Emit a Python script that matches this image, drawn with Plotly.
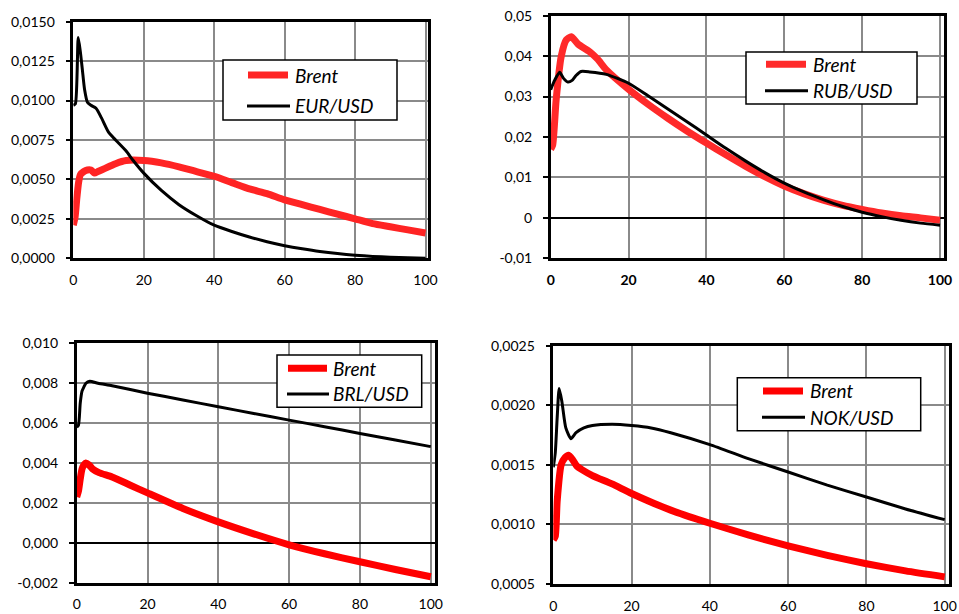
import plotly.graph_objects as go

# ---------------- data ----------------
x_ticks = [0, 20, 40, 60, 80, 100]
x_tick_labels = ["0", "20", "40", "60", "80", "100"]

# Panel 1: Brent vs EUR/USD
p1_brent_x = [0, 0.5, 1, 1.5, 2, 3, 4, 5, 6, 7, 8, 10, 12, 15, 20, 25, 30, 35, 40, 45,
              50, 55, 60, 65, 70, 75, 80, 85, 90, 95, 100]
p1_brent_y = [0.0021, 0.0026, 0.0038, 0.0048, 0.0053, 0.0055, 0.0056, 0.0056, 0.0054, 0.0055,
              0.0056, 0.0058, 0.0060, 0.0062, 0.0062, 0.00605, 0.0058, 0.0055, 0.0052, 0.0048,
              0.0044, 0.0041, 0.0037, 0.0034, 0.0031, 0.0028, 0.0025, 0.0022, 0.0020, 0.0018, 0.0016]
p1_fx_x = [0, 0.6, 1.4, 2, 2.6, 3.2, 4, 5, 6.5, 8, 10, 12, 15, 17, 20, 25, 30, 35, 40, 45,
           50, 55, 60, 65, 70, 75, 80, 85, 90, 95, 100]
p1_fx_y = [0.0097, 0.0098, 0.0140, 0.0131, 0.0119, 0.0107, 0.0099, 0.0097, 0.0095, 0.0089,
           0.0080, 0.0075, 0.0068, 0.0062, 0.0054, 0.0043, 0.0034, 0.0027, 0.0021, 0.0017,
           0.00135, 0.00105, 0.0008, 0.0006, 0.00043, 0.0003, 0.0002, 0.00012, 0.00007, 0.00003, 0.00001]
p1_y_ticks = [0, 0.0025, 0.005, 0.0075, 0.01, 0.0125, 0.015]
p1_y_labels = ["0,0000", "0,0025", "0,0050", "0,0075", "0,0100", "0,0125", "0,0150"]

# Panel 2: Brent vs RUB/USD
p2_brent_x = [0, 0.5, 1.4, 2.7, 4, 5.3, 7, 10, 12, 14.3, 20, 25, 30, 35, 40, 45, 50, 55,
              60, 65, 70, 75, 80, 85, 90, 95, 100]
p2_brent_y = [0.0170, 0.0180, 0.0292, 0.0399, 0.0440, 0.0448, 0.0430, 0.0411, 0.0393, 0.0366,
              0.0318, 0.0281, 0.0247, 0.0215, 0.0185, 0.0156, 0.0128, 0.0102, 0.0079, 0.0060,
              0.0044, 0.0031, 0.0021, 0.0012, 0.0005, 0.0000, -0.0006]
p2_fx_x = [0, 1, 2.3, 3.3, 4.4, 5.5, 6.5, 7.8, 10, 14.3, 20, 25, 30, 35, 40, 45, 50, 55,
           60, 65, 70, 75, 80, 85, 90, 95, 100]
p2_fx_y = [0.0317, 0.0340, 0.0360, 0.0345, 0.0336, 0.0340, 0.0352, 0.0362, 0.0361, 0.0355,
           0.0333, 0.0302, 0.0270, 0.0238, 0.0205, 0.0172, 0.0141, 0.0112, 0.0086, 0.0064,
           0.0045, 0.0028, 0.0014, 0.0003, -0.0006, -0.0013, -0.0018]
p2_y_ticks = [-0.01, 0, 0.01, 0.02, 0.03, 0.04, 0.05]
p2_y_labels = ["-0,01", "0", "0,01", "0,02", "0,03", "0,04", "0,05"]

# Panel 3: Brent vs BRL/USD
p3_brent_x = [0, 0.5, 1, 1.5, 2, 2.6, 3.5, 4.5, 6.3, 10, 15, 20, 30, 40, 50, 60, 70, 80, 90, 100]
p3_brent_y = [0.0023, 0.0026, 0.0032, 0.0037, 0.0039, 0.0040, 0.0039, 0.0037, 0.00352, 0.0033,
              0.0029, 0.0025, 0.00172, 0.00105, 0.00045, -0.0001, -0.00055, -0.00095, -0.00134, -0.0017]
p3_fx_x = [0, 0.5, 1, 1.5, 2, 2.6, 3.7, 6, 10, 20, 30, 40, 50, 60, 70, 80, 90, 100]
p3_fx_y = [0.0058, 0.0059, 0.0070, 0.0076, 0.0078, 0.0080, 0.0081, 0.0080, 0.00787, 0.0075,
           0.00716, 0.00682, 0.00648, 0.00615, 0.00582, 0.00548, 0.00515, 0.00482]
p3_y_ticks = [-0.002, 0, 0.002, 0.004, 0.006, 0.008, 0.010]
p3_y_labels = ["-0,002", "0,000", "0,002", "0,004", "0,006", "0,008", "0,010"]

# Panel 4: Brent vs NOK/USD
p4_brent_x = [0, 0.5, 1, 2, 3, 3.9, 5, 6, 7.3, 10, 15, 20, 30, 40, 50, 60, 70, 80, 90, 100]
p4_brent_y = [0.00087, 0.0009, 0.0012, 0.0015, 0.00156, 0.00158, 0.00154, 0.00149, 0.00146,
              0.00141, 0.00134, 0.00126, 0.00112, 0.00101, 0.00091, 0.00082, 0.00074, 0.00067,
              0.00061, 0.00056]
p4_fx_x = [0, 0.5, 1, 1.5, 2.2, 3.2, 4.5, 5.8, 7.8, 10, 15, 20, 25, 30, 40, 50, 60, 70, 80, 90, 100]
p4_fx_y = [0.00148, 0.0016, 0.0019, 0.00214, 0.00203, 0.00181, 0.00172, 0.00177, 0.00181,
           0.00183, 0.00184, 0.00183, 0.00181, 0.00177, 0.00167, 0.00155, 0.00144, 0.00133,
           0.00123, 0.00113, 0.00104]
p4_y_ticks = [0.0005, 0.001, 0.0015, 0.002, 0.0025]
p4_y_labels = ["0,0005", "0,0010", "0,0015", "0,0020", "0,0025"]

series_names = ["Brent", "EUR/USD", "RUB/USD", "BRL/USD", "NOK/USD"]

# ---------------- layout helpers ----------------
W, H = 959, 614


def fx(px):
    return px / W


def fy(py):
    return 1 - py / H


FONT = "Lato, 'Open Sans', sans-serif"

panels = [
    dict(bx=p1_brent_x, by=p1_brent_y, cx=p1_fx_x, cy=p1_fx_y, name=series_names[1],
         yt=p1_y_ticks, yl=p1_y_labels, box=(73.3, 21.7, 428, 258.3), xmax=100.7,
         yr=(0, 0.015), zero=False, red="#FF2424", boldx=False,
         leg=(223, 60, 397, 120, 245, 291, 294, 75, 106)),
    dict(bx=p2_brent_x, by=p2_brent_y, cx=p2_fx_x, cy=p2_fx_y, name=series_names[2],
         yt=p2_y_ticks, yl=p2_y_labels, box=(550.7, 15.7, 944.3, 258.3), xmax=101.1,
         yr=(-0.01, 0.05), zero=True, red="#FF2A2A", boldx=True,
         leg=(746, 52, 917, 104, 763, 809, 812, 64.3, 90.7)),
    dict(bx=p3_brent_x, by=p3_brent_y, cx=p3_fx_x, cy=p3_fx_y, name=series_names[3],
         yt=p3_y_ticks, yl=p3_y_labels, box=(76.7, 343.3, 435, 582.7), xmax=101.2,
         yr=(-0.002, 0.010), zero=True, red="#FF0000", boldx=False,
         leg=(277, 355, 421.7, 407.3, 285, 330, 332, 368.3, 394)),
    dict(bx=p4_brent_x, by=p4_brent_y, cx=p4_fx_x, cy=p4_fx_y, name=series_names[4],
         yt=p4_y_ticks, yl=p4_y_labels, box=(553.3, 345.7, 949, 584), xmax=101.1,
         yr=(0.0005, 0.0025), zero=False, red="#FF0000", boldx=False,
         leg=(737.3, 377.7, 920.7, 430.7, 760, 806, 809, 391, 417.3)),
]

fig = go.Figure()
layout = dict(
    width=W, height=H,
    margin=dict(l=0, r=0, t=0, b=0, pad=0, autoexpand=False),
    paper_bgcolor="white", plot_bgcolor="white",
    showlegend=False,
    font=dict(family=FONT, size=14, color="black"),
)
shapes = []
annotations = []

for i, p in enumerate(panels, start=1):
    sfx = "" if i == 1 else str(i)
    xa, ya = "x" + sfx, "y" + sfx
    fig.add_trace(go.Scatter(x=p["bx"], y=p["by"], name=series_names[0], mode="lines",
                             line=dict(color=p["red"], width=7, shape="spline", smoothing=0.6),
                             xaxis=xa, yaxis=ya))
    fig.add_trace(go.Scatter(x=p["cx"], y=p["cy"], name=p["name"], mode="lines",
                             line=dict(color="black", width=3, shape="spline", smoothing=0.6),
                             xaxis=xa, yaxis=ya))
    l, t, r, b = p["box"]
    layout["xaxis" + sfx] = dict(
        domain=[fx(l), fx(r)], anchor=ya, range=[0, p["xmax"]],
        tickmode="array", tickvals=x_ticks, ticktext=x_tick_labels,
        showgrid=True, gridcolor="#8a8a8a", gridwidth=1.5,
        showline=True, linecolor="black", linewidth=2.5, mirror=True,
        ticks="", zeroline=False, ticklabelstandoff=7, automargin=False,
        tickfont=dict(family=FONT, size=14, color="black",
                      weight="bold" if p["boldx"] else "normal"),
        fixedrange=True,
    )
    layout["yaxis" + sfx] = dict(
        domain=[fy(b), fy(t)], anchor=xa, range=list(p["yr"]),
        tickmode="array", tickvals=p["yt"], ticktext=p["yl"],
        showgrid=True, gridcolor="#8a8a8a", gridwidth=1.5,
        showline=True, linecolor="black", linewidth=2.5, mirror=True,
        ticks="outside", ticklen=5, tickwidth=1.5, tickcolor="black",
        zeroline=p["zero"], zerolinecolor="black", zerolinewidth=2,
        ticklabelstandoff=8, automargin=False,
        tickfont=dict(family=FONT, size=14, color="black"),
        fixedrange=True,
    )
    # legend box
    bl, bt, br, bb, sx0, sx1, tx, y1, y2 = p["leg"]
    shapes.append(dict(type="rect", xref="paper", yref="paper",
                       x0=fx(bl), x1=fx(br), y0=fy(bb), y1=fy(bt),
                       line=dict(color="black", width=1.5), fillcolor="white", layer="above"))
    shapes.append(dict(type="line", xref="paper", yref="paper",
                       x0=fx(sx0 + 3), x1=fx(sx1 - 3), y0=fy(y1), y1=fy(y1),
                       line=dict(color=p["red"], width=7)))
    shapes.append(dict(type="line", xref="paper", yref="paper",
                       x0=fx(sx0 + 2), x1=fx(sx1 - 1), y0=fy(y2), y1=fy(y2),
                       line=dict(color="black", width=3)))
    for txt, yy in ((series_names[0], y1), (p["name"], y2)):
        annotations.append(dict(xref="paper", yref="paper", x=fx(tx), y=fy(yy),
                                xanchor="left", yanchor="middle", showarrow=False,
                                text=txt, borderpad=0,
                                font=dict(family=FONT, size=19, color="black", style="italic")))

layout["shapes"] = shapes
layout["annotations"] = annotations
fig.update_layout(**layout)
fig.write_html(
    "out.html",
    config={"displayModeBar": False},
    post_script="document.body.style.margin='0';document.body.style.overflow='hidden';",
)
